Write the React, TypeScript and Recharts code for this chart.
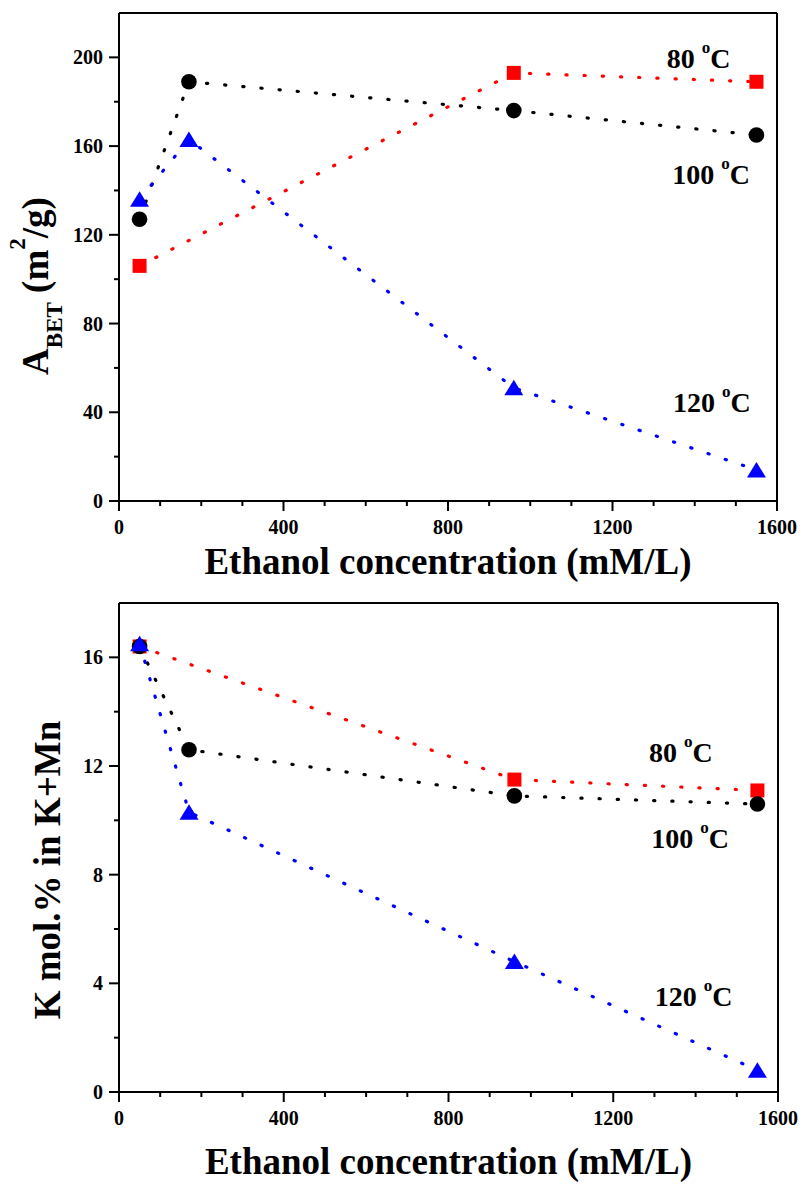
import React from 'react';
import { LineChart, Line, XAxis, YAxis, ReferenceLine, ReferenceDot, Label } from 'recharts';

const FONT = '"Liberation Serif", "Times New Roman", Times, serif';

// Ethanol concentration (mM/L)
const conc80 = [50, 960, 1550];
const conc100 = [50, 170, 960, 1550];
const conc120 = [50, 170, 960, 1550];

// Top panel: A_BET (m2/g)
const abet80 = [106, 193, 189];
const abet100 = [127, 189, 176, 165];
const abet120 = [136, 163, 51, 14];

// Bottom panel: K mol.% in K+Mn
const kmol80 = [16.4, 11.5, 11.1];
const kmol100 = [16.4, 12.6, 10.9, 10.6];
const kmol120 = [16.5, 10.3, 4.8, 0.8];

const xTicks = [0, 100, 200, 300, 400, 500, 600, 700, 800, 900, 1000, 1100, 1200, 1300, 1400, 1500, 1600];
const xMajorTicks = [0, 400, 800, 1200, 1600];
const abetTicks = [0, 20, 40, 60, 80, 100, 120, 140, 160, 180, 200];
const abetMajorTicks = [0, 40, 80, 120, 160, 200];
const kTicks = [0, 2, 4, 6, 8, 10, 12, 14, 16];
const kMajorTicks = [0, 4, 8, 12, 16];

const seriesLabels = ['80', '100', '120'];
// annotation anchors (data coordinates)
const abetLabelX = [1332, 1345, 1347];
const abetLabelY = [195, 143, 40];
const kLabelX = [1287, 1292, 1301];
const kLabelY = [12.15, 9.0, 3.17];

const COLORS = ['#FF0000', '#000000', '#0000FF'];

const toRows = (xs: number[], ys: number[]) => xs.map((x, i) => ({ x, y: ys[i] }));

const makeXTick = (major: number[]) => (props: any) => {
  const { x, y, payload } = props;
  const isMajor = major.includes(payload.value);
  return (
    <g>
      <line x1={x} x2={x} y1={y} y2={y + (isMajor ? 10 : 5)} stroke="#000" strokeWidth={2} />
      {isMajor && (
        <text x={x} y={y + 33} textAnchor="middle" fontFamily={FONT} fontWeight="bold" fontSize={20} fill="#000">
          {payload.value}
        </text>
      )}
    </g>
  );
};

const makeYTick = (major: number[]) => (props: any) => {
  const { x, y, payload } = props;
  const isMajor = major.includes(payload.value);
  return (
    <g>
      <line x1={x - (isMajor ? 10 : 5)} x2={x} y1={y} y2={y} stroke="#000" strokeWidth={2} />
      {isMajor && (
        <text x={x - 16} y={y + 7} textAnchor="end" fontFamily={FONT} fontWeight="bold" fontSize={20} fill="#000">
          {payload.value}
        </text>
      )}
    </g>
  );
};

const squareDot = (props: any) => {
  const { cx, cy, index } = props;
  if (cx == null || cy == null) return <g key={`s${index}`} />;
  return <rect key={`s${index}`} x={cx - 7} y={cy - 7} width={14} height={14} fill="#FF0000" />;
};
const circleDot = (props: any) => {
  const { cx, cy, index } = props;
  if (cx == null || cy == null) return <g key={`c${index}`} />;
  return <circle key={`c${index}`} cx={cx} cy={cy} r={7.8} fill="#000000" />;
};
const triangleDot = (props: any) => {
  const { cx, cy, index } = props;
  if (cx == null || cy == null) return <g key={`t${index}`} />;
  return (
    <polygon
      key={`t${index}`}
      points={`${cx},${cy - 8} ${cx + 9.5},${cy + 7.5} ${cx - 9.5},${cy + 7.5}`}
      fill="#0000FF"
    />
  );
};

const tempLabel = (label: string) => (props: any) => {
  const { cx, cy } = props;
  return (
    <text x={cx} y={cy} fontFamily={FONT} fontWeight="bold" fontSize={28} fill="#000">
      <tspan>{label} </tspan>
      <tspan fontSize={17} dy={-15}>o</tspan>
      <tspan dy={15}>C</tspan>
    </text>
  );
};

const xTitle = (offset: number) => (props: any) => {
  const vb = props.viewBox;
  return (
    <text
      x={vb.x + vb.width / 2}
      y={vb.y + offset}
      textAnchor="middle"
      fontFamily={FONT}
      fontWeight="bold"
      fontSize={37}
      fill="#000"
    >
      Ethanol concentration (mM/L)
    </text>
  );
};

const abetTitle = () => {
  const x = 48;
  const y = 286;
  return (
    <text
      x={x}
      y={y}
      transform={`rotate(-90, ${x}, ${y})`}
      textAnchor="middle"
      fontFamily={FONT}
      fontWeight="bold"
      fontSize={37}
      fill="#000"
    >
      <tspan>A</tspan>
      <tspan fontSize={23} dy={14}>BET</tspan>
      <tspan dy={-14}> (m</tspan>
      <tspan fontSize={23} dy={-23}>2</tspan>
      <tspan dy={23}>/g)</tspan>
    </text>
  );
};

const kTitle = () => {
  const x = 60;
  const y = 280;
  return (
    <text
      x={x}
      y={y}
      transform={`rotate(-90, ${x}, ${y})`}
      textAnchor="middle"
      fontFamily={FONT}
      fontWeight="bold"
      fontSize={37}
      fill="#000"
    >
      K mol.% in K+Mn
    </text>
  );
};

const lineCommon = {
  type: 'linear' as const,
  dataKey: 'y',
  strokeWidth: 3.2,
  strokeDasharray: '1.2 17',
  strokeLinecap: 'round' as const,
  isAnimationActive: false,
  activeDot: false,
};

interface PanelProps {
  height: number;
  margin: { top: number; right: number; bottom: number; left: number };
  yDomain: [number, number];
  yTicks: number[];
  yMajor: number[];
  series: number[][];
  xs: number[][];
  labelX: number[];
  labelY: number[];
  yTitle: (p: any) => React.ReactElement;
  xTitleOffset: number;
}

function Panel(p: PanelProps) {
  const dots = [squareDot, circleDot, triangleDot];
  return (
    <LineChart width={803} height={p.height} margin={p.margin}>
      <XAxis
        type="number"
        dataKey="x"
        domain={[0, 1600]}
        ticks={xTicks}
        interval={0}
        tickSize={0}
        tickMargin={0}
        tickLine={false}
        tick={makeXTick(xMajorTicks)}
        axisLine={{ stroke: '#000', strokeWidth: 2 }}
        height={60}
        allowDataOverflow
      >
        <Label content={xTitle(p.xTitleOffset)} />
      </XAxis>
      <YAxis
        type="number"
        domain={p.yDomain}
        ticks={p.yTicks}
        interval={0}
        tickSize={0}
        tickMargin={0}
        tickLine={false}
        tick={makeYTick(p.yMajor)}
        axisLine={{ stroke: '#000', strokeWidth: 2 }}
        width={119}
        allowDataOverflow
      >
        <Label content={p.yTitle} />
      </YAxis>
      <ReferenceLine y={p.yDomain[1]} stroke="#000" strokeWidth={2} />
      <ReferenceLine x={1600} stroke="#000" strokeWidth={2} />
      {p.series.map((ys, i) => (
        <Line
          key={`line${i}`}
          {...lineCommon}
          data={toRows(p.xs[i], ys)}
          stroke={COLORS[i]}
          dot={dots[i]}
        />
      ))}
      {seriesLabels.map((lab, i) => (
        <ReferenceDot
          key={`lab${i}`}
          x={p.labelX[i]}
          y={p.labelY[i]}
          r={0}
          shape={tempLabel(lab)}
        />
      ))}
    </LineChart>
  );
}

export default function App() {
  return (
    <div style={{ position: 'absolute', left: 0, top: 0, width: 803, height: 1184, background: '#fff' }}>
      <div style={{ position: 'absolute', left: 0, top: 0 }}>
        <Panel
          height={590}
          margin={{ top: 13, right: 26, bottom: 29, left: 0 }}
          yDomain={[0, 220]}
          yTicks={abetTicks}
          yMajor={abetMajorTicks}
          series={[abet80, abet100, abet120]}
          xs={[conc80, conc100, conc120]}
          labelX={abetLabelX}
          labelY={abetLabelY}
          yTitle={abetTitle}
          xTitleOffset={73}
        />
      </div>
      <div style={{ position: 'absolute', left: 0, top: 590 }}>
        <Panel
          height={594}
          margin={{ top: 13, right: 25, bottom: 32, left: 0 }}
          yDomain={[0, 18]}
          yTicks={kTicks}
          yMajor={kMajorTicks}
          series={[kmol80, kmol100, kmol120]}
          xs={[conc80, conc100, conc120]}
          labelX={kLabelX}
          labelY={kLabelY}
          yTitle={kTitle}
          xTitleOffset={82}
        />
      </div>
    </div>
  );
}
